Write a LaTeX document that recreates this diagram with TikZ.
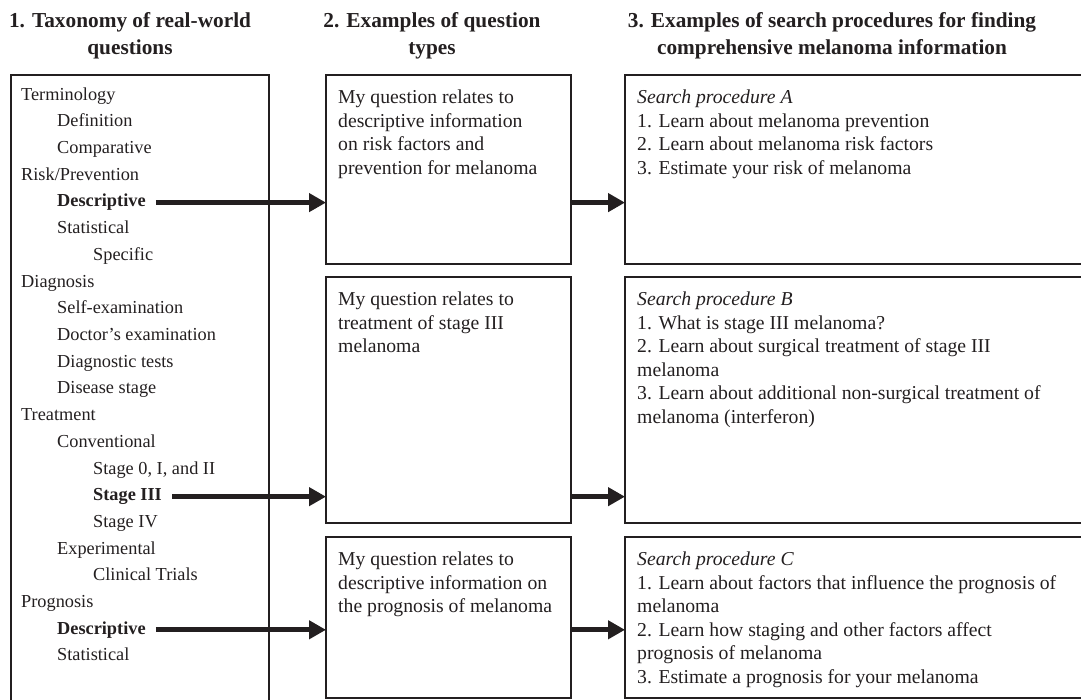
\documentclass[tikz,border=0pt]{standalone}
\usepackage{fontspec}
\setmainfont{Liberation Serif}
\usetikzlibrary{arrows.meta,calc}
\definecolor{ink}{HTML}{231F20}
\tikzstyle{box} = [draw=ink, line width=2pt, anchor=north west, inner sep=0pt, outer sep=0pt]
\tikzstyle{item} = [anchor=base west, inner sep=0pt, text=ink, font=\fontsize{18.3}{22}\selectfont]
\tikzstyle{qtext} = [anchor=north west, inner sep=0pt, align=left, text=ink, font=\fontsize{19.7}{23.5}\selectfont]
\tikzstyle{head} = [anchor=north, inner sep=0pt, align=center, text=ink, font=\fontsize{21.3}{27}\selectfont\bfseries]
\tikzstyle{arr} = [draw=ink, line width=5pt, -{Triangle[length=17pt,width=18pt]}]

\begin{document}
\begin{tikzpicture}[x=1pt,y=-1pt]
  \useasboundingbox (0,0) rectangle (1081,700);
  \clip (0,0) rectangle (1081,700);
  % column headings
  \node [head] (h1) at (130,12.5) {1. Taxonomy of real-world\\questions};
  \node [head] (h2) at (432,12.5) {2. Examples of question\\types};
  \node [head] (h3) at (832,12.5) {3. Examples of search procedures for finding\\comprehensive melanoma information};
  % boxes
  \node [box, minimum width=258pt, minimum height=640pt] (tax) at (11,75) {};
  \node [box, minimum width=245pt, minimum height=189pt] (q1) at (326,75) {};
  \node [box, minimum width=245pt, minimum height=246pt] (q2) at (326,277) {};
  \node [box, minimum width=245pt, minimum height=161pt] (q3) at (326,537) {};
  \node [box, minimum width=480pt, minimum height=189pt] (p1) at (625,75) {};
  \node [box, minimum width=480pt, minimum height=246pt] (p2) at (625,277) {};
  \node [box, minimum width=480pt, minimum height=161pt] (p3) at (625,537) {};
  % taxonomy
  \foreach \txt/\lev [count=\i] in {Terminology/0, Definition/1, Comparative/1, {Risk/Prevention}/0,
      {\textbf{Descriptive}}/1, Statistical/1, Specific/2, Diagnosis/0, Self-examination/1,
      {Doctor’s examination}/1, {Diagnostic tests}/1, {Disease stage}/1, Treatment/0, Conventional/1,
      {Stage 0, I, and II}/2, {\textbf{Stage III}}/2, {Stage IV}/2, Experimental/1, {Clinical Trials}/2,
      Prognosis/0, {\textbf{Descriptive}}/1, Statistical/1}
    \node [item] (t\i) at ({21+36*\lev},{207+(\i-5)*26.7}) {\txt};
  % question types
  \node [qtext] (q1t) at ([shift={(12,15)}]q1.north west) {My question relates to\\descriptive information\\on risk factors and\\prevention for melanoma};
  \node [qtext] (q2t) at ([shift={(12,15)}]q2.north west) {My question relates to\\treatment of stage III\\melanoma};
  \node [qtext] (q3t) at ([shift={(12,15)}]q3.north west) {My question relates to\\descriptive information on\\the prognosis of melanoma};
  % search procedures
  \node [qtext] (p1t) at ([shift={(12,15)}]p1.north west) {\textit{Search procedure A}\\1. Learn about melanoma prevention\\2. Learn about melanoma risk factors\\3. Estimate your risk of melanoma};
  \node [qtext] (p2t) at ([shift={(12,15)}]p2.north west) {\textit{Search procedure B}\\1. What is stage III melanoma?\\2. Learn about surgical treatment of stage III\\melanoma\\3. Learn about additional non-surgical treatment of\\melanoma (interferon)};
  \node [qtext] (p3t) at ([shift={(12,15)}]p3.north west) {\textit{Search procedure C}\\1. Learn about factors that influence the prognosis of\\melanoma\\2. Learn how staging and other factors affect\\prognosis of melanoma\\3. Estimate a prognosis for your melanoma};
  % arrows
  \draw [arr] ([xshift=10pt]t5.east) -- (t5.east -| q1.west);
  \draw [arr] (q1.east |- t5.east) -- (t5.east -| p1.west);
  \draw [arr] ([xshift=10pt]t16.east) -- (t16.east -| q2.west);
  \draw [arr] (q2.east |- t16.east) -- (t16.east -| p2.west);
  \draw [arr] ([xshift=10pt]t21.east) -- (t21.east -| q3.west);
  \draw [arr] (q3.east |- t21.east) -- (t21.east -| p3.west);
\end{tikzpicture}
\end{document}
